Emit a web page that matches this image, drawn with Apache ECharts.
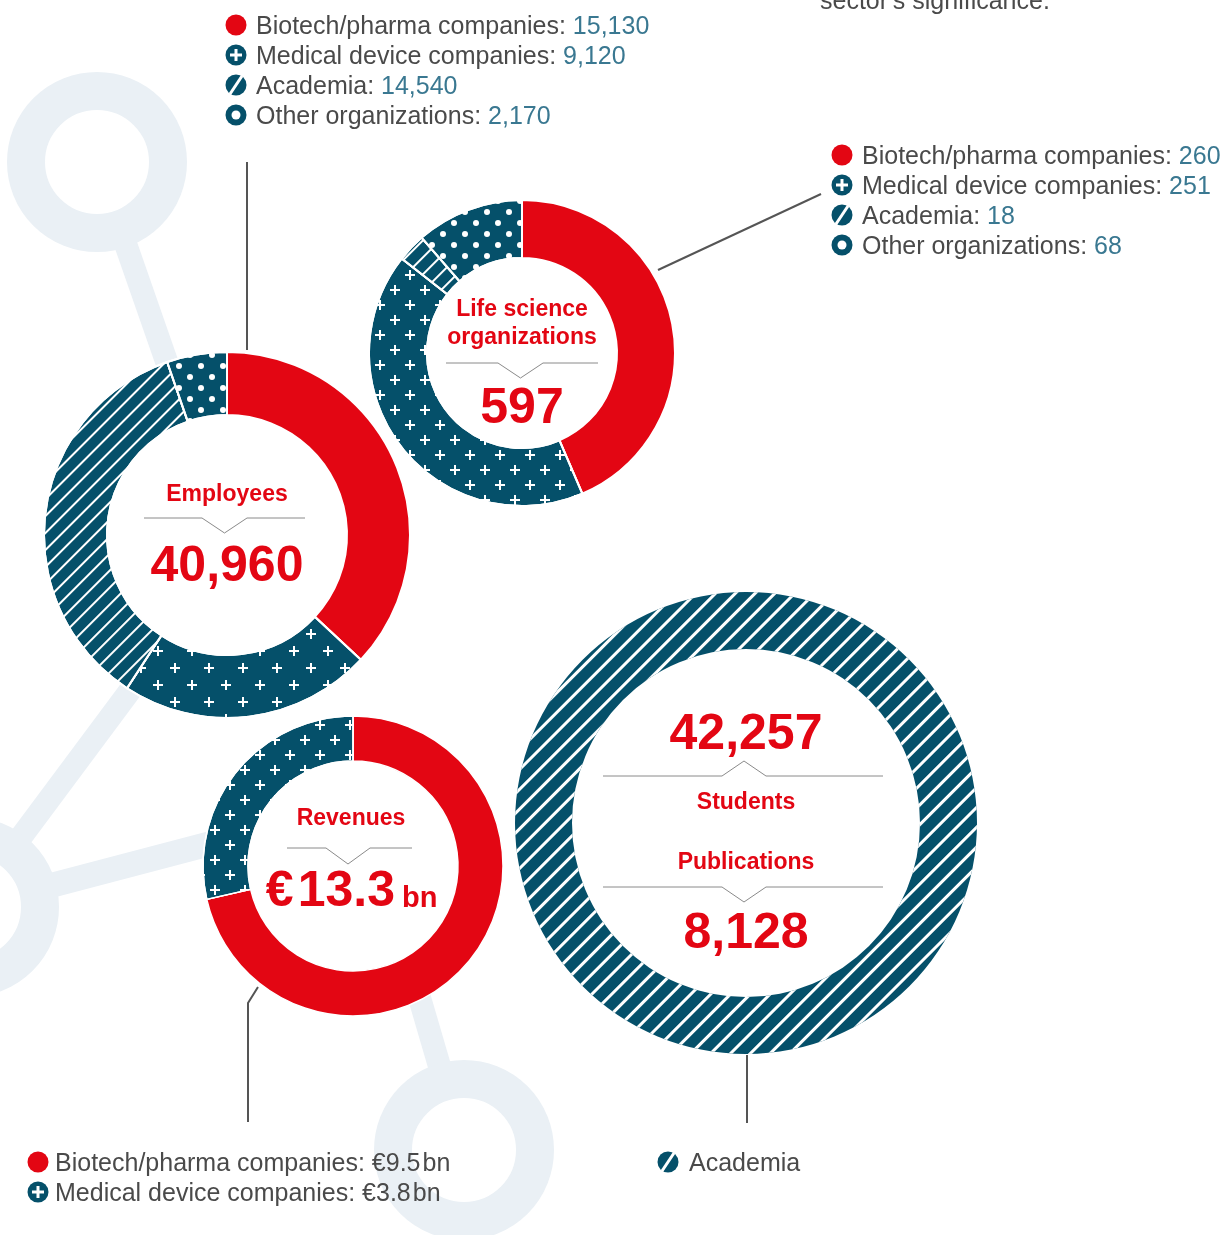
<!DOCTYPE html>
<html>
<head>
<meta charset="utf-8">
<script src="https://cdn.jsdelivr.net/npm/echarts@6/dist/echarts.min.js"></script>
<style>
  html, body { margin: 0; padding: 0; background: #fff; }
  #main { width: 1228px; height: 1235px; }
</style>
</head>
<body>
<div id="main"></div>
<script>
// values
const categories = ['Biotech/pharma companies', 'Medical device companies', 'Academia', 'Other organizations'];
const kinds = ['solid', 'plus', 'stripe', 'dot'];
const employees = [15130, 9120, 14540, 2170];
const organizations = [260, 251, 18, 68];
const revenueCategories = ['Biotech/pharma companies', 'Medical device companies'];
const revenues = [9.5, 3.8];
const academiaCategories = ['Academia'];
const academia = [1];
const students = 42257;
const publications = 8128;

const red = '#e30613';
const teal = '#05506a';
const grey = '#4a4a4a';
const numColor = '#3a7891';
const bg = '#eaf0f5';
const font = '"Liberation Sans", Arial, sans-serif';

const plusPath = 'path://M4,0H6V4H10V6H6V10H4V6H0V4H4Z';
const decals = {
  plusBig: { symbol: plusPath, symbolSize: 1, color: '#fff', dashArrayX: [[10, 24], [0, 17, 10, 7]], dashArrayY: [10, 7] },
  plus: { symbol: plusPath, symbolSize: 1, color: '#fff', dashArrayX: [[10, 20], [0, 15, 10, 5]], dashArrayY: [10, 5] },
  stripe: { symbol: 'rect', symbolSize: 1, color: '#fff', dashArrayX: [1, 0], dashArrayY: [2, 10], rotation: -Math.PI / 4 },
  stripeBig: { symbol: 'rect', symbolSize: 1, color: '#fff', dashArrayX: [1, 0], dashArrayY: [3, 11], rotation: -Math.PI / 4 },
  dot: { symbol: 'circle', symbolSize: 1, color: '#fff', dashArrayX: [[6, 16], [0, 11, 6, 5]], dashArrayY: [6, 5] }
};

function donutData(names, values, big) {
  return values.map((v, i) => {
    let k = kinds[i];
    let d = k === 'solid' ? null : decals[k === 'plus' && big ? 'plusBig' : k];
    return { name: names[i], value: v, itemStyle: { color: k === 'solid' ? red : teal, decal: d } };
  });
}

function donut(center, radius, data, border) {
  return {
    type: 'pie', silent: true, animation: false,
    center: center, radius: radius,
    startAngle: 90, clockwise: true,
    label: { show: false }, labelLine: { show: false },
    itemStyle: { borderColor: '#fff', borderWidth: border },
    data: data
  };
}

const sum = a => a.reduce((s, v) => s + v, 0);
const fmt = v => v.toLocaleString('en-US');

// ---- graphic helpers
function ring(cx, cy, r, w) {
  return { type: 'circle', z: 0.5, silent: true, shape: { cx: cx, cy: cy, r: r }, style: { fill: '#fff', stroke: bg, lineWidth: w } };
}
function stick(x1, y1, x2, y2, w) {
  return { type: 'line', z: 0, silent: true, shape: { x1: x1, y1: y1, x2: x2, y2: y2 }, style: { stroke: bg, lineWidth: w } };
}
function hole(cx, cy, r) {
  return { type: 'circle', z: 1, silent: true, shape: { cx: cx, cy: cy, r: r }, style: { fill: '#fff' } };
}
function connector(points) {
  return { type: 'polyline', z: 3, silent: true, shape: { points: points }, style: { stroke: '#555', lineWidth: 2, fill: null } };
}
function divider(x1, x2, y, nx1, nx2, ay) {
  let mx = (nx1 + nx2) / 2;
  return { type: 'polyline', z: 10, silent: true, shape: { points: [[x1, y], [nx1, y], [mx, ay], [nx2, y], [x2, y]] }, style: { stroke: '#8a8a8a', lineWidth: 1, fill: null } };
}
function label(text, x, y, size, align) {
  return {
    type: 'text', z: 10, silent: true, x: x, y: y,
    style: { text: text, fill: red, font: 'bold ' + size + 'px ' + font, align: align || 'center', verticalAlign: 'middle', textAlign: align || 'center', textVerticalAlign: 'middle' }
  };
}
function icon(kind, x, y) {
  let els = [{ type: 'circle', z: 10, silent: true, shape: { cx: x, cy: y, r: 10.5 }, style: { fill: kind === 'solid' ? red : teal } }];
  if (kind === 'plus') {
    els.push({ type: 'rect', z: 11, silent: true, shape: { x: x - 6, y: y - 1.5, width: 12, height: 3 }, style: { fill: '#fff' } });
    els.push({ type: 'rect', z: 11, silent: true, shape: { x: x - 1.5, y: y - 6, width: 3, height: 12 }, style: { fill: '#fff' } });
  } else if (kind === 'stripe') {
    els.push({ type: 'line', z: 11, silent: true, shape: { x1: x - 6, y1: y + 9, x2: x + 6, y2: y - 9 }, style: { stroke: '#fff', lineWidth: 3 } });
  } else if (kind === 'dot') {
    els.push({ type: 'circle', z: 11, silent: true, shape: { cx: x, cy: y, r: 4.5 }, style: { fill: '#fff' } });
  }
  return els;
}
function legendRow(kind, name, value, x, y, gap, valueColor) {
  let t = value === null ? '{n|' + name + '}' : '{n|' + name + ': }{v|' + value + '}';
  return icon(kind, x, y - 2).concat([{
    type: 'text', z: 10, silent: true, x: x + gap, y: y,
    style: {
      text: t, align: 'left', verticalAlign: 'middle', textAlign: 'left', textVerticalAlign: 'middle',
      rich: { n: { fill: grey, font: '25px ' + font }, v: { fill: valueColor || numColor, font: '25px ' + font } }
    }
  }]);
}

let graphics = [
  // molecule decoration in the background
  stick(97, 162, 227, 535, 23), ring(97, 162, 71, 38),
  stick(-31, 907, 190, 610, 23), stick(-31, 907, 300, 820, 25), ring(-31, 907, 71, 38),
  stick(464, 1150, 381, 866, 23), ring(464, 1150, 71, 38),
  hole(227, 535, 120), hole(522, 353, 95), hole(353, 866, 105), hole(746, 823, 174),
  // leader lines
  connector([[247, 162], [247, 350]]),
  connector([[658, 270], [821, 194]]),
  connector([[258, 987], [248, 1003], [248, 1122]]),
  connector([[747, 1055], [747, 1123]]),
  // centre texts
  label('Employees', 227, 495, 23), divider(144, 305, 518, 202, 247, 533), label(fmt(sum(employees)), 227, 567, 50),
  label('Life science', 522, 310, 23), label('organizations', 522, 338, 23), divider(446, 598, 363, 498, 543, 378),
  label(fmt(sum(organizations)), 522, 409, 50),
  label('Revenues', 351, 819, 23), divider(287, 412, 848, 326, 370, 864),
  label('€\u200a' + sum(revenues).toFixed(1), 395, 892, 50, 'right'), label('bn', 402, 899, 29, 'left'),
  label(fmt(students), 746, 735, 50), divider(603, 883, 776, 722, 766, 761), label('Students', 746, 803, 23),
  label('Publications', 746, 863, 23), divider(603, 883, 887, 722, 766, 902), label(fmt(publications), 746, 934, 50),
  { type: 'text', z: 10, silent: true, x: 820, y: 2, style: { text: "sector's significance.", fill: grey, font: '25px ' + font, align: 'left', verticalAlign: 'middle', textAlign: 'left', textVerticalAlign: 'middle' } }
];

categories.forEach((c, i) => {
  graphics = graphics.concat(legendRow(kinds[i], c, fmt(employees[i]), 236, 27 + i * 30, 20));
  graphics = graphics.concat(legendRow(kinds[i], c, fmt(organizations[i]), 842, 157 + i * 30, 20));
});
revenueCategories.forEach((c, i) => {
  graphics = graphics.concat(legendRow(kinds[i], c, '€' + revenues[i].toFixed(1) + '\u200abn', 38, 1164 + i * 30, 17, grey));
});
academiaCategories.forEach((c, i) => {
  graphics = graphics.concat(legendRow('stripe', c, null, 668, 1164 + i * 30, 21));
});

const chart = echarts.init(document.getElementById('main'));
chart.setOption({
  backgroundColor: '#fff',
  animation: false,
  graphic: { elements: graphics },
  series: [
    donut([227, 535], [120, 183], donutData(categories, employees, true), 2),
    donut([522, 353], [95, 153], donutData(categories, organizations, false), 2),
    donut([353, 866], [105, 150], donutData(revenueCategories, revenues, false), 1.5),
    donut([746, 823], [174, 231], academia.map((v, i) => ({
      name: academiaCategories[i], value: v, itemStyle: { color: teal, decal: decals.stripeBig }
    })), 0)
  ]
});
</script>
</body>
</html>
